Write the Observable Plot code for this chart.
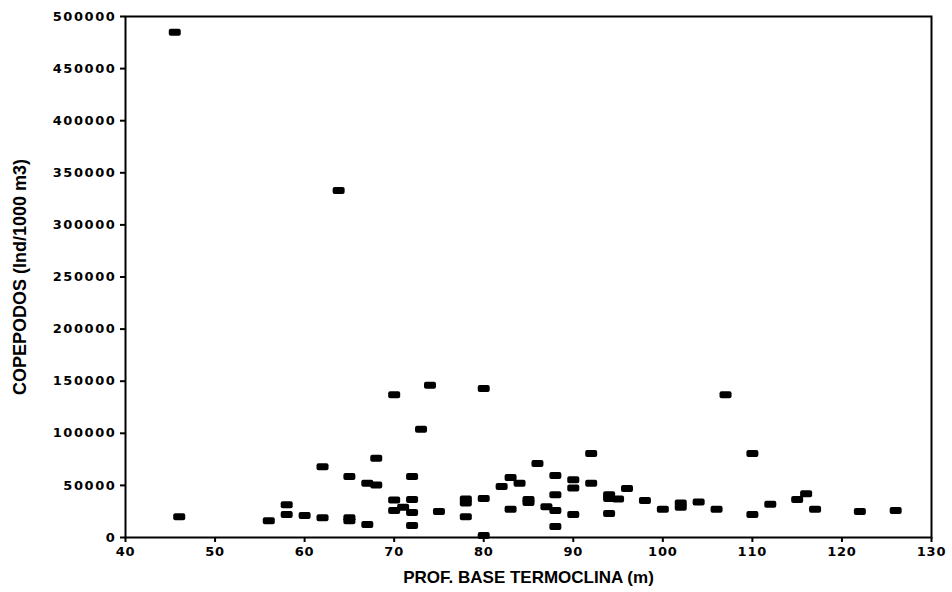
<!DOCTYPE html>
<html>
<head>
<meta charset="utf-8">
<script src="https://cdn.jsdelivr.net/npm/d3@7"></script>
<script src="https://cdn.jsdelivr.net/npm/@observablehq/plot@0.6"></script>
<style>
  html, body { margin: 0; padding: 0; background: #fff; }
  svg { display: block; }
</style>
</head>
<body>
<div id="chart"></div>
<script>
// Profundidad de la base de la termoclina (m)
const profundidad = [
  45.5, 63.8, 46, 56, 58, 58, 60, 62, 62, 65, 65, 65, 67, 67, 68, 68,
  70, 70, 70, 71, 72, 72, 72, 72, 73, 74, 75, 78, 78, 78, 80, 80, 80,
  82, 83, 84, 83, 85, 85, 86, 87, 88, 88, 88, 88, 90, 90, 90, 92, 92,
  94, 94, 94, 95, 96, 98, 100, 102, 102, 104, 106, 107, 110, 110, 112,
  115, 116, 117, 122, 126
];
// Copépodos (Ind/1000 m3)
const copepodos = [
  485000, 333000, 20000, 16000, 31500, 22000, 21000, 68000, 19000, 58500, 16000, 19000, 12500, 52000, 50500, 76000,
  137000, 36000, 26000, 29000, 58500, 36500, 24000, 11500, 104000, 146000, 25000, 37000, 33000, 20000, 143000, 37500, 2000,
  49000, 57500, 52000, 27000, 36500, 33500, 71000, 29500, 59500, 41000, 26000, 10500, 55500, 47500, 22000, 80500, 52000,
  41000, 37500, 23000, 37000, 47000, 35500, 27000, 33000, 29000, 34000, 27000, 137000, 80500, 22000, 32000,
  36500, 42000, 27000, 25000, 26000
];
const xTicks = [40, 50, 60, 70, 80, 90, 100, 110, 120, 130];
const yTicks = [0, 50000, 100000, 150000, 200000, 250000, 300000, 350000, 400000, 450000, 500000];

const data = profundidad.map((x, i) => ({x, y: copepodos[i]}));

// small black rounded rectangle marker
const barSymbol = {
  draw(context) {
    const w = 6, h = 3.5, r = 2;
    context.moveTo(-w + r, -h);
    context.lineTo(w - r, -h);
    context.arcTo(w, -h, w, -h + r, r);
    context.lineTo(w, h - r);
    context.arcTo(w, h, w - r, h, r);
    context.lineTo(-w + r, h);
    context.arcTo(-w, h, -w, h - r, r);
    context.lineTo(-w, -h + r);
    context.arcTo(-w, -h, -w + r, -h, r);
    context.closePath();
  }
};

const chart = Plot.plot({
  width: 952,
  height: 592,
  marginLeft: 125,
  marginRight: 21,
  marginTop: 16,
  marginBottom: 55,
  style: {fontFamily: "'Liberation Sans', Arial, sans-serif", fontSize: "12px", fontWeight: "bold", color: "#000", background: "#fff"},
  x: {domain: [40, 130], ticks: xTicks, tickFormat: d => String(d), label: "PROF. BASE TERMOCLINA (m)", labelAnchor: "center", labelArrow: "none", labelOffset: 45, tickSize: 5},
  y: {domain: [0, 500000], ticks: yTicks, tickFormat: d => String(d), label: "COPEPODOS (Ind/1000 m3)", labelAnchor: "center", labelArrow: "none", labelOffset: 112, tickSize: 5, tickPadding: 4},
  marks: [
    Plot.frame({stroke: "#000", strokeWidth: 2}),
    Plot.dot(data, {x: "x", y: "y", symbol: barSymbol, fill: "#000", stroke: null})
  ]
});

// Axis labels: larger
chart.querySelectorAll('[aria-label="x-axis label"] text').forEach(t => {
  t.setAttribute("font-size", "17");
});
chart.querySelectorAll('[aria-label="y-axis label"] text').forEach(t => {
  t.setAttribute("font-size", "18");
});
// Tick labels: wide heavy digits
chart.querySelectorAll('[aria-label="y-axis tick label"]').forEach(g => {
  g.setAttribute("font-family", "'DejaVu Sans', sans-serif");
  g.setAttribute("font-size", "13");
  g.setAttribute("letter-spacing", "1.6");
});
chart.querySelectorAll('[aria-label="x-axis tick label"]').forEach(g => {
  g.setAttribute("font-family", "'DejaVu Sans', sans-serif");
  g.setAttribute("font-size", "13");
  g.setAttribute("letter-spacing", "0.8");
});
chart.querySelectorAll('[aria-label$="-axis tick"]').forEach(g => {
  g.setAttribute("stroke-width", "2");
});
document.getElementById("chart").appendChild(chart);
</script>
</body>
</html>
